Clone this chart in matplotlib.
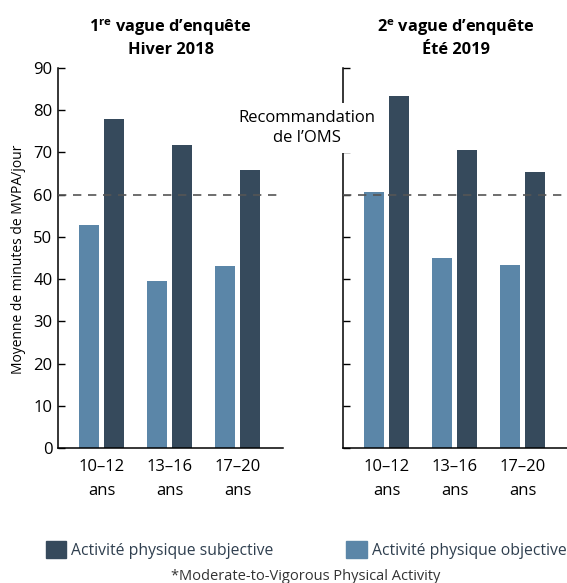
import numpy as np
import matplotlib
matplotlib.use('Agg')
import matplotlib.pyplot as plt
from matplotlib.patches import Patch

plt.rcParams['font.family'] = ['Open Sans', 'DejaVu Sans']
plt.rcParams['mathtext.fontset'] = 'custom'
plt.rcParams['mathtext.rm'] = 'Open Sans'
plt.rcParams['mathtext.bf'] = 'Open Sans:bold'

groups = ['10–12\nans', '13–16\nans', '17–20\nans']
titles = ['1$^{\\mathbf{re}}$ vague d’enquête\nHiver 2018',
          '2$^{\\mathbf{e}}$ vague d’enquête\nÉté 2019']
objective = [[52.8, 39.6, 43.0], [60.5, 44.9, 43.3]]
subjective = [[77.9, 71.7, 65.8], [83.4, 70.5, 65.3]]
oms_level = 60
yticks = [0, 10, 20, 30, 40, 50, 60, 70, 80, 90]

dark = '#364a5c'
light = '#5b86a8'
text_col = '#2f3f4f'

fig = plt.figure(figsize=(5.67, 5.83), dpi=100)
axes = [fig.add_axes([0.1023, 0.231, 0.397, 0.653]),
        fig.add_axes([0.605, 0.231, 0.397, 0.653])]

x = np.arange(len(groups))
w = 0.294
for i, ax in enumerate(axes):
    ax.bar(x - 0.184, objective[i], w, color=light, zorder=2)
    ax.bar(x + 0.184, subjective[i], w, color=dark, zorder=2)
    ax.axhline(oms_level, color='#555555', lw=1.2, dashes=(5, 4), zorder=3)
    ax.set_xlim(-0.64, 2.67)
    ax.set_ylim(0, 90)
    ax.set_yticks(yticks)
    ax.set_xticks(x)
    ax.set_xticklabels(groups, fontsize=12, linespacing=1.6)
    ax.tick_params(axis='x', length=0, pad=8)
    ax.tick_params(axis='y', direction='in', length=5, width=1, pad=4, labelsize=12)
    for s in ['top', 'right']:
        ax.spines[s].set_visible(False)
    ax.spines['left'].set_linewidth(1.1)
    ax.spines['bottom'].set_linewidth(1.1)
    ax.set_title(titles[i], fontsize=11.8, fontweight='bold', linespacing=1.35, pad=10)
    if i == 1:
        ax.tick_params(axis='y', labelleft=False)

fig.text(19 / 567, 1 - 259 / 583, 'Moyenne de minutes de MVPA/jour', rotation=90,
         ha='center', va='center', fontsize=10)

fig.text(307 / 567, 1 - 128 / 583, 'Recommandation\nde l’OMS', ha='center', va='center',
         fontsize=12, linespacing=1.4, zorder=10,
         bbox=dict(facecolor='white', edgecolor='none', pad=5))

handles = [Patch(color=dark, label='Activité physique subjective'),
           Patch(color=light, label='Activité physique objective')]
fig.legend(handles=handles, loc='center left', bbox_to_anchor=(46 / 567, 1 - 550 / 583),
           ncol=2, frameon=False, fontsize=11.3, handlelength=1.3, handleheight=1.3,
           handletextpad=0.3, columnspacing=4.65, labelcolor=text_col,
           borderpad=0, borderaxespad=0)

fig.text(306 / 567, 1 - 576 / 583, '*Moderate-to-Vigorous Physical Activity', ha='center',
         va='center', fontsize=10.5, color='#333333')

fig.savefig('out.png', dpi=100)
